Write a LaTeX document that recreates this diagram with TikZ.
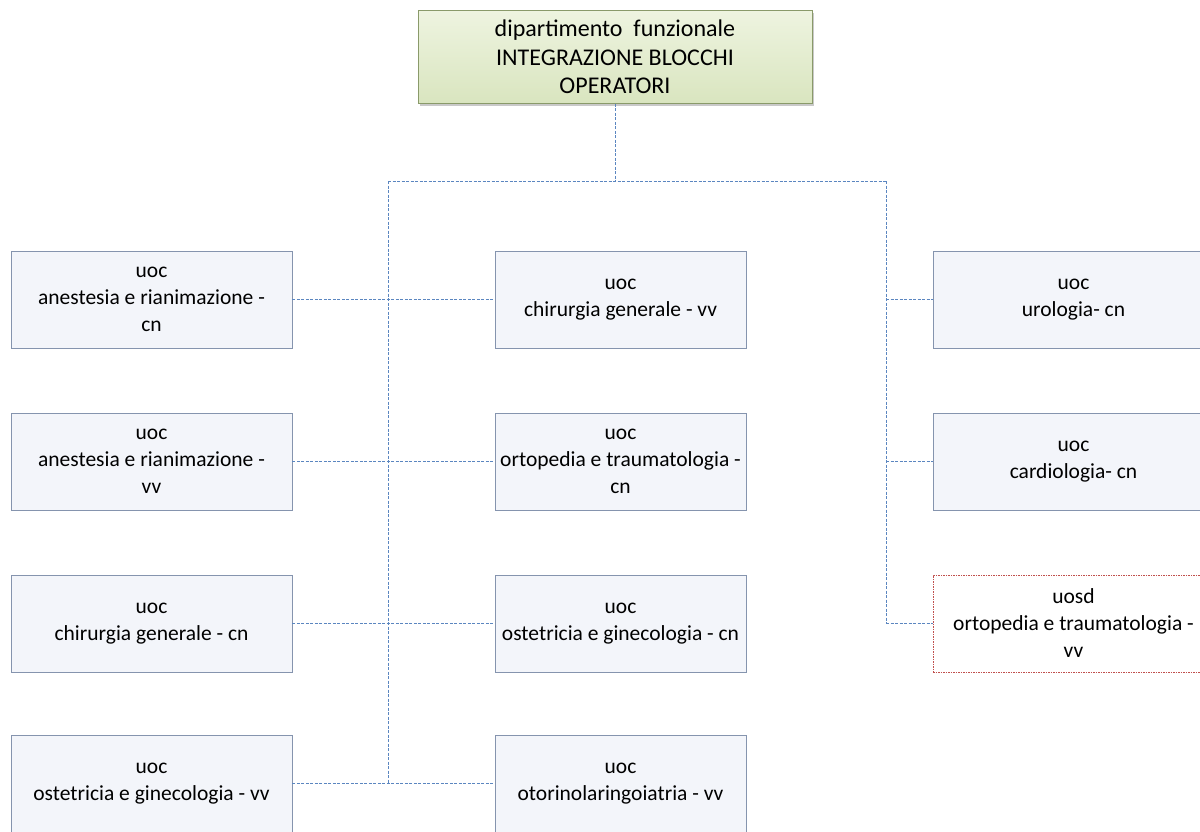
\documentclass[tikz,border=0pt]{standalone}
\usepackage{fontspec}
\setmainfont{Carlito}
\usetikzlibrary{shadows}
\definecolor{boxfill}{HTML}{F3F5FA}
\definecolor{boxline}{HTML}{8594AE}
\definecolor{linkblue}{HTML}{5B86C0}
\definecolor{headtop}{HTML}{EEF4E0}
\definecolor{headbot}{HTML}{D9E5BF}
\definecolor{headline}{HTML}{8A9A6A}
\definecolor{dotred}{HTML}{C0504D}
\tikzset{
  unit/.style={draw=boxline, line width=0.8pt, fill=boxfill, minimum height=97pt,
    align=center, inner sep=0pt, font=\fontsize{21.5}{27}\selectfont},
  wideunit/.style={unit, minimum width=281pt},
  midunit/.style={unit, minimum width=251pt},
  dottedunit/.style={wideunit, draw=dotred, line width=1pt, fill=white, dash pattern=on 1.5pt off 1pt},
  headbox/.style={draw=headline, line width=0.8pt, top color=headtop, bottom color=headbot,
    minimum width=394pt, minimum height=93pt, align=center, inner sep=0pt,
    font=\fontsize{24}{28.5}\selectfont,
    drop shadow={shadow xshift=2pt, shadow yshift=-2pt, fill=black!35, opacity=0.6}},
  link/.style={draw=linkblue, line width=0.9pt, dash pattern=on 3pt off 1.5pt}
}
\begin{document}
\begin{tikzpicture}[x=1pt,y=-1pt]
\useasboundingbox (0,0) rectangle (1200,831);
\clip (0,0) rectangle (1200,831);
\fill[white] (0,0) rectangle (1200,831);

% head of the department
\node[headbox] (head) at (615,57) {dipartimento\ \ funzionale\\INTEGRAZIONE BLOCCHI\\OPERATORI};

% left column
\node[wideunit] (L1) at (151.5,299.5) {uoc\\anestesia e rianimazione -\\cn};
\node[wideunit] (L2) at (151.5,461.5) {uoc\\anestesia e rianimazione -\\vv};
\node[wideunit] (L3) at (151.5,623.5) {uoc\\chirurgia generale - cn};
\node[wideunit] (L4) at (151.5,783.5) {uoc\\ostetricia e ginecologia - vv};

% middle column
\node[midunit] (M1) at (620.5,299.5) {uoc\\chirurgia generale - vv};
\node[midunit] (M2) at (620.5,461.5) {uoc\\ortopedia e traumatologia -\\cn};
\node[midunit] (M3) at (620.5,623.5) {uoc\\ostetricia e ginecologia - cn};
\node[midunit] (M4) at (620.5,783.5) {uoc\\otorinolaringoiatria - vv};

% right column
\node[wideunit] (R1) at (1073.5,299.5) {uoc\\urologia- cn};
\node[wideunit] (R2) at (1073.5,461.5) {uoc\\cardiologia- cn};
\node[dottedunit] (R3) at (1073.5,623.5) {uosd\\ortopedia e traumatologia -\\vv};

% bus lines
\coordinate (busL) at (388,181);
\coordinate (busR) at (886,181);
\coordinate (busC) at (head.south |- busL);

\draw[link] (head.south) -- (busC);
\draw[link] (busL) -- (busR);
\draw[link] (busL) -- (busL |- L4.east);
\draw[link] (busR) -- (busR |- R3.west);

% row connectors
\draw[link] (L1.east) -- (M1.west);
\draw[link] (L2.east) -- (M2.west);
\draw[link] (L3.east) -- (M3.west);
\draw[link] (L4.east) -- (M4.west);
\draw[link] (busR |- R1.west) -- (R1.west);
\draw[link] (busR |- R2.west) -- (R2.west);
\draw[link] (busR |- R3.west) -- (R3.west);
\end{tikzpicture}
\end{document}
